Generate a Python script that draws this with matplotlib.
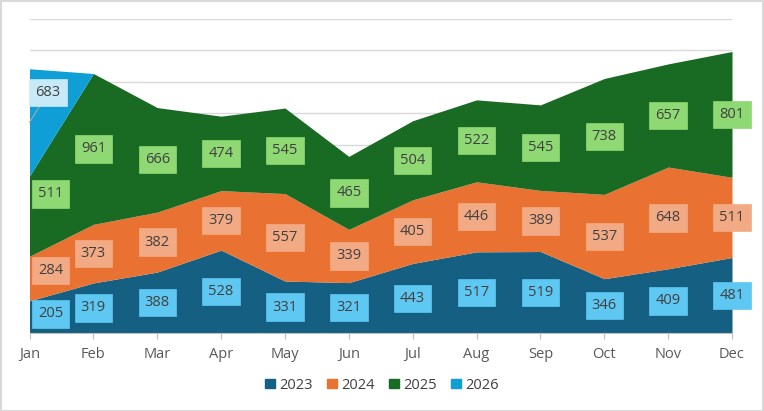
import matplotlib
matplotlib.use("Agg")
import matplotlib.pyplot as plt
import numpy as np
from matplotlib.patches import Rectangle

months = ["Jan", "Feb", "Mar", "Apr", "May", "Jun", "Jul", "Aug", "Sep", "Oct", "Nov", "Dec"]
series_names = ["2023", "2024", "2025", "2026"]
s2023 = [205, 319, 388, 528, 331, 321, 443, 517, 519, 346, 409, 481]
s2024 = [284, 373, 382, 379, 557, 339, 405, 446, 389, 537, 648, 511]
s2025 = [511, 961, 666, 474, 545, 465, 504, 522, 545, 738, 657, 801]
s2026 = [683, 0, 0, 0, 0, 0, 0, 0, 0, 0, 0, 0]
s2026_labels = [True] + [False] * 11

fills = ["#156082", "#E97132", "#196B24", "#0F9ED5"]
label_bg = ["#5EC8F2", "#F2AA84", "#8ED973", "#C8EAF8"]

plt.rcParams['font.family'] = ['Open Sans', 'DejaVu Sans']

fig = plt.figure(figsize=(7.64, 4.11), dpi=100)
ax = fig.add_axes([29.5 / 764, 78 / 411, (732 - 29.5) / 764, (333 - 19) / 411])

x = np.arange(len(months))
data = np.array([s2023, s2024, s2025, s2026], dtype=float)
cum = np.vstack([np.zeros(len(months)), np.cumsum(data, axis=0)])

for i in range(4):
    ax.fill_between(x, cum[i], cum[i + 1], color=fills[i], lw=0, zorder=2,
                    label=series_names[i])

ax.set_xlim(0, 11)
ax.set_ylim(0, 2000)
ax.set_yticks(np.arange(0, 2001, 200))
ax.yaxis.grid(True, color="#D9D9D9", lw=1.0, zorder=0)
ax.set_axisbelow(True)
ax.tick_params(axis='y', left=False, labelleft=False)
ax.set_xticks(x)
ax.set_xticklabels(months, color="#595959", fontsize=10.5)
ax.tick_params(axis='x', length=4, color="#BFBFBF", pad=6)
for s in ["top", "right", "left"]:
    ax.spines[s].set_visible(False)
ax.spines["bottom"].set_color("#BFBFBF")
ax.spines["bottom"].set_zorder(3)

# data labels
shift = 0.33
for i in range(3):
    for j in range(len(months)):
        if j == 0:
            xx = shift
            lo = cum[i][0] * (1 - shift) + cum[i][1] * shift
            hi = cum[i + 1][0] * (1 - shift) + cum[i + 1][1] * shift
        else:
            xx = j
            lo, hi = cum[i][j], cum[i + 1][j]
        ax.text(xx, (lo + hi) / 2, str(int(data[i][j])), ha="center", va="center",
                fontsize=10.5, color="#404040", zorder=5, clip_on=False,
                bbox=dict(boxstyle="square,pad=0.42", fc=label_bg[i],
                          ec=label_bg[i], lw=0.5))

# 2026 label with leader line
for j, show in enumerate(s2026_labels):
    if show:
        ymid = (cum[3][j] + cum[4][j]) / 2
        ax.annotate(str(int(s2026[j])), xy=(j, ymid), xytext=(0.29, ymid + 190),
                    ha="center", va="center", fontsize=10.5, color="#404040", zorder=6,
                    annotation_clip=False,
                    bbox=dict(boxstyle="square,pad=0.42", fc=label_bg[3], ec=label_bg[3], lw=0.5),
                    arrowprops=dict(arrowstyle="-", color="#A6A6A6", lw=0.8,
                                    shrinkA=0, shrinkB=0))

handles = [Rectangle((0, 0), 1, 1, color=c) for c in fills]
fig.legend(handles, series_names, loc="center", bbox_to_anchor=(382 / 764, 1 - 385 / 411),
           ncol=4, frameon=False, fontsize=10.5, handlelength=0.65, handleheight=0.65,
           handletextpad=0.3, columnspacing=1.0, labelcolor="#404040")

fig.patches.append(Rectangle((0.5 / 764, 0.5 / 411), 1 - 1.5 / 764, 1 - 1.5 / 411,
                             transform=fig.transFigure, fill=False, ec="#D9D9D9", lw=1.5))

fig.savefig("out.png", dpi=100)
